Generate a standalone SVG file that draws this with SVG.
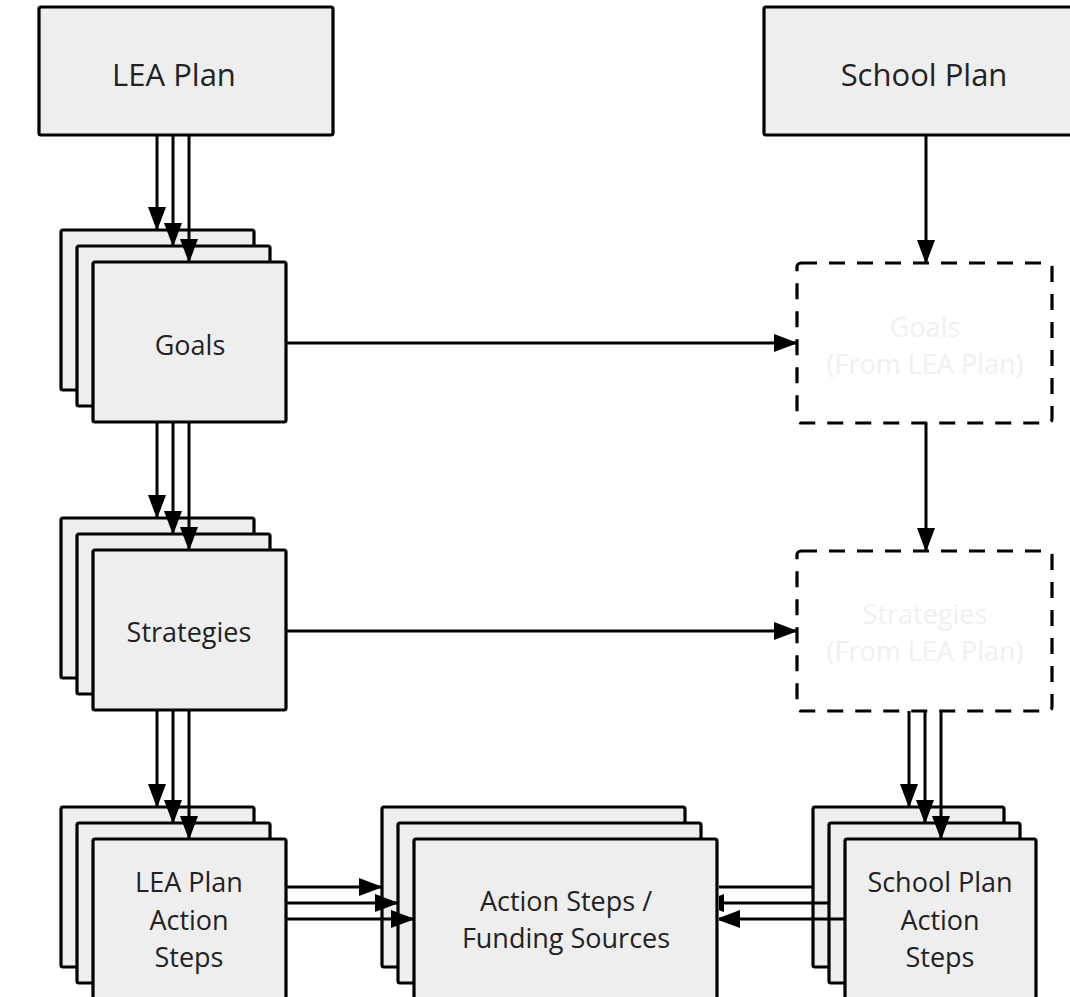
<svg xmlns="http://www.w3.org/2000/svg" width="1070" height="997" viewBox="0 0 1070 997">
<style>
.box{fill:#eeeeee;stroke:#000;stroke-width:3.2}
.dash{fill:#ffffff;stroke:#000;stroke-width:3.2;stroke-dasharray:16 12}
.t{font-family:"Open Sans","Noto Sans","Liberation Sans",sans-serif;fill:#222222;text-anchor:middle;font-size:27px}
.big{font-size:31px}
.ghost{fill:#f0f0f0}
.c{fill:none;stroke:#000;stroke-width:3}
</style>
<defs>
<marker id="ah" markerUnits="userSpaceOnUse" markerWidth="24" markerHeight="18" viewBox="0 0 24 18" refX="23" refY="9" orient="auto">
<path d="M0,0 L24,9 L0,18 z" fill="#000"/>
</marker>
<clipPath id="clipR"><rect x="719" y="0" width="400" height="997"/></clipPath>
</defs>
<rect width="1070" height="997" fill="#ffffff"/>

<g id="lea-plan">
<rect class="box" x="39" y="7" width="294" height="128" rx="2"/>
<text class="t big" x="174" y="86">LEA Plan</text>
</g>

<g id="school-plan">
<rect class="box" x="764" y="7" width="322" height="128" rx="2"/>
<text class="t big" x="924" y="86">School Plan</text>
</g>

<g id="goals">
<rect class="box" x="61" y="230" width="193" height="160" rx="2"/>
<rect class="box" x="77" y="246" width="193" height="160" rx="2"/>
<rect class="box" x="93" y="262" width="193" height="160" rx="2"/>
<text class="t" x="190" y="355">Goals</text>
</g>

<g id="strategies">
<rect class="box" x="61" y="518" width="193" height="160" rx="2"/>
<rect class="box" x="77" y="534" width="193" height="160" rx="2"/>
<rect class="box" x="93" y="550" width="193" height="160" rx="2"/>
<text class="t" x="189" y="642">Strategies</text>
</g>

<g id="lea-action-steps">
<rect class="box" x="61" y="807" width="193" height="160" rx="2"/>
<rect class="box" x="77" y="823" width="193" height="160" rx="2"/>
<rect class="box" x="93" y="839" width="193" height="160" rx="2"/>
<text class="t" x="189" y="892">LEA Plan</text>
<text class="t" x="189" y="930">Action</text>
<text class="t" x="189" y="967">Steps</text>
</g>

<g id="action-funding">
<rect class="box" x="382" y="807" width="303" height="160" rx="2"/>
<rect class="box" x="398" y="823" width="303" height="160" rx="2"/>
<rect class="box" x="414" y="839" width="303" height="160" rx="2"/>
<text class="t" x="566" y="911">Action Steps /</text>
<text class="t" x="566" y="948">Funding Sources</text>
</g>

<g id="school-action-steps">
<rect class="box" x="813" y="807" width="191" height="160" rx="2"/>
<rect class="box" x="829" y="823" width="191" height="160" rx="2"/>
<rect class="box" x="845" y="839" width="191" height="160" rx="2"/>
<text class="t" x="940" y="892">School Plan</text>
<text class="t" x="940" y="930">Action</text>
<text class="t" x="940" y="967">Steps</text>
</g>

<g id="goals-from-lea">
<rect class="dash" x="797" y="263" width="255" height="160" rx="4"/>
<text class="t ghost" x="925" y="337">Goals</text>
<text class="t ghost" x="925" y="374">(From LEA Plan)</text>
</g>

<g id="strategies-from-lea">
<rect class="dash" x="797" y="551" width="255" height="160" rx="4"/>
<text class="t ghost" x="925" y="624">Strategies</text>
<text class="t ghost" x="925" y="661">(From LEA Plan)</text>
</g>

<g id="connectors">
<path class="c" marker-end="url(#ah)" d="M157,135 V230"/>
<path class="c" marker-end="url(#ah)" d="M173,135 V246"/>
<path class="c" marker-end="url(#ah)" d="M189,135 V262"/>
<path class="c" marker-end="url(#ah)" d="M157,422 V518"/>
<path class="c" marker-end="url(#ah)" d="M173,422 V534"/>
<path class="c" marker-end="url(#ah)" d="M189,422 V550"/>
<path class="c" marker-end="url(#ah)" d="M157,710 V807"/>
<path class="c" marker-end="url(#ah)" d="M173,710 V823"/>
<path class="c" marker-end="url(#ah)" d="M189,710 V839"/>
<path class="c" marker-end="url(#ah)" d="M286,343 H797"/>
<path class="c" marker-end="url(#ah)" d="M286,631 H797"/>
<path class="c" marker-end="url(#ah)" d="M926,135 V263"/>
<path class="c" marker-end="url(#ah)" d="M926,423 V551"/>
<path class="c" marker-end="url(#ah)" d="M909,711 V807"/>
<path class="c" marker-end="url(#ah)" d="M925,711 V823"/>
<path class="c" marker-end="url(#ah)" d="M941,711 V839"/>
<path class="c" marker-end="url(#ah)" d="M286,887 H382"/>
<path class="c" marker-end="url(#ah)" d="M286,903 H398"/>
<path class="c" marker-end="url(#ah)" d="M286,919 H414"/>
<g clip-path="url(#clipR)">
<path class="c" marker-end="url(#ah)" d="M813,887 H685"/>
<path class="c" marker-end="url(#ah)" d="M829,903 H701"/>
<path class="c" marker-end="url(#ah)" d="M845,919 H717"/>
</g>
</g>
</svg>
